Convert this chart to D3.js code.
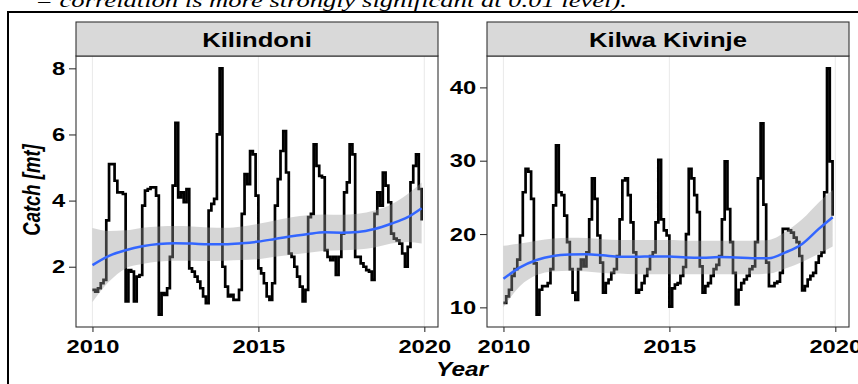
<!DOCTYPE html>
<html>
<head>
<meta charset="utf-8">
<script src="https://cdn.jsdelivr.net/npm/d3@7"></script>
<style>
  html, body { margin: 0; padding: 0; background: #fff; }
  svg { display: block; }
</style>
</head>
<body>
<svg id="chart" width="858" height="384"></svg>
<script>
// Monthly catch (mt), Jan 2010 – Dec 2019
const kilindoniCatch = [
  1.30, 1.25, 1.35, 1.50, 1.60, 3.40, 5.10, 5.10, 4.60, 4.25, 4.25, 4.20,
  0.95, 1.90, 1.85, 0.95, 1.70, 1.75, 3.85, 4.30, 4.35, 4.40, 4.40, 4.15,
  0.55, 1.20, 1.15, 1.35, 2.30, 4.45, 6.35, 4.10, 4.25, 3.95, 4.35, 1.95,
  1.85, 1.70, 1.55, 1.35, 1.10, 0.90, 3.70, 3.90, 4.05, 6.00, 8.00, 2.00,
  1.40, 1.10, 1.15, 1.00, 1.00, 1.30, 3.60, 4.80, 4.50, 5.50, 5.40, 4.15,
  1.95, 1.80, 1.50, 1.10, 1.00, 1.50, 3.85, 4.65, 5.50, 6.10, 4.85, 2.40,
  2.30, 2.00, 1.70, 1.40, 0.95, 1.30, 3.50, 3.60, 5.70, 5.05, 4.75, 4.70,
  2.50, 2.30, 2.20, 2.30, 1.75, 2.30, 3.00, 4.25, 4.55, 5.70, 5.40, 2.30,
  2.30, 2.10, 2.00, 1.90, 1.85, 1.60, 3.60, 4.25, 3.85, 4.85, 4.45, 3.95,
  3.00, 2.85, 2.80, 2.70, 2.40, 2.00, 2.60, 4.55, 5.05, 5.40, 4.35, 3.40
];
const kilwaCatch = [
  10.6, 11.5, 12.4, 14.3, 15.2, 16.5, 19.8, 25.7, 28.9, 28.5, 24.8, 16.0,
   9.0, 12.4, 12.9, 12.9, 13.3, 15.2, 23.9, 32.1, 25.7, 25.3, 22.5, 18.9,
  15.2, 12.0, 11.0, 15.2, 16.5, 15.6, 17.5, 22.0, 27.6, 24.8, 19.8, 16.1,
  12.0, 13.3, 13.8, 14.7, 15.2, 17.0, 22.0, 27.3, 27.6, 25.3, 21.6, 17.5,
  12.0, 12.4, 13.3, 14.3, 15.2, 17.0, 17.5, 21.6, 30.1, 22.0, 20.5, 19.8,
  10.1, 12.6, 13.1, 13.3, 14.3, 15.5, 20.0, 28.9, 27.6, 25.3, 23.0, 15.6,
  12.0, 12.9, 13.3, 14.3, 15.2, 15.8, 17.0, 22.0, 29.9, 23.4, 18.9, 14.7,
  10.4, 12.4, 13.3, 13.8, 14.3, 15.2, 15.6, 18.9, 27.6, 35.1, 24.0, 16.1,
  12.9, 12.9, 13.3, 13.5, 14.7, 20.7, 20.7, 20.5, 20.2, 19.5, 18.9, 17.0,
  12.3, 12.9, 13.8, 14.3, 14.7, 16.1, 17.0, 17.5, 25.7, 42.6, 29.9, 22.5
];

// LOESS trend with confidence band, sampled every half year
const trendYears = [2010, 2010.5, 2011, 2011.5, 2012, 2012.5, 2013, 2013.5, 2014, 2014.5,
  2015, 2015.5, 2016, 2016.5, 2017, 2017.5, 2018, 2018.5, 2019, 2019.5, 2019.92];
const kilindoniFit   = [2.05, 2.33, 2.50, 2.62, 2.69, 2.71, 2.70, 2.68, 2.68, 2.71,
  2.76, 2.84, 2.92, 2.99, 3.04, 3.03, 3.05, 3.14, 3.30, 3.50, 3.77];
const kilindoniUpper = [3.17, 3.08, 3.10, 3.18, 3.22, 3.23, 3.22, 3.19, 3.18, 3.22,
  3.30, 3.40, 3.50, 3.56, 3.58, 3.57, 3.60, 3.70, 3.88, 4.20, 4.55];
const kilindoniLower = [0.93, 1.55, 1.95, 2.08, 2.16, 2.18, 2.18, 2.17, 2.18, 2.20,
  2.23, 2.30, 2.36, 2.42, 2.48, 2.50, 2.52, 2.58, 2.70, 2.75, 2.70];
const kilwaFit   = [13.9, 15.45, 16.45, 17.0, 17.2, 17.25, 17.1, 16.9, 16.9, 16.95,
  16.95, 16.8, 16.75, 16.85, 16.8, 16.7, 16.7, 17.5, 18.65, 20.7, 22.3];
const kilwaUpper = [18.4, 18.7, 19.1, 19.4, 19.5, 19.45, 19.3, 19.2, 19.2, 19.2,
  19.2, 19.1, 19.1, 19.1, 19.1, 19.1, 19.2, 20.3, 22.0, 24.3, 26.0];
const kilwaLower = [10.0, 12.9, 14.4, 14.9, 15.0, 14.9, 14.7, 14.6, 14.5, 14.5,
  14.5, 14.5, 14.5, 14.5, 14.5, 14.5, 14.6, 15.3, 16.2, 17.3, 18.3];

const stations = ["Kilindoni", "Kilwa Kivinje"];
const xTicks = [2010, 2015, 2020];
const kilindoniTicks = [2, 4, 6, 8];
const kilwaTicks = [10, 20, 30, 40];
const captionText = "= correlation is more strongly significant at 0.01 level).";

const monthTimes = d3.range(kilindoniCatch.length).map(i => 2010 + i / 12);

const svg = d3.select("#chart");
const STRETCH = 1.25;           // glyphs in this figure are drawn wide
const panelTop = 56, panelBottom = 327, stripTop = 22;

// caption line (partly cropped at the top edge) and figure frame
svg.append("text")
  .attr("x", 35).attr("y", 7)
  .attr("textLength", 592).attr("lengthAdjust", "spacingAndGlyphs")
  .style("font-family", "'Liberation Serif', 'Times New Roman', serif")
  .style("font-style", "italic").style("font-size", "19px")
  .text(captionText);
svg.append("rect")
  .attr("x", 8).attr("y", 12).attr("width", 860).attr("height", 400)
  .attr("fill", "none").attr("stroke", "#000").attr("stroke-width", 2);

const panels = [
  { name: stations[0], x0: 76, x1: 438, values: kilindoniCatch, fit: kilindoniFit,
    upper: kilindoniUpper, lower: kilindoniLower, yTicks: kilindoniTicks },
  { name: stations[1], x0: 487, x1: 849, values: kilwaCatch, fit: kilwaFit,
    upper: kilwaUpper, lower: kilwaLower, yTicks: kilwaTicks }
];

panels.forEach((p, k) => {
  const tMin = d3.min(monthTimes), tMax = d3.max(monthTimes);
  const tPad = (tMax - tMin) * 0.05;
  const x = d3.scaleLinear().domain([tMin - tPad, tMax + tPad]).range([p.x0, p.x1]);
  const vMin = d3.min(p.values.concat(p.lower)), vMax = d3.max(p.values.concat(p.upper));
  const vPad = (vMax - vMin) * 0.05;
  const y = d3.scaleLinear().domain([vMin - vPad, vMax + vPad]).range([panelBottom, panelTop]);

  const g = svg.append("g");
  const clipId = "clip" + k;
  svg.append("clipPath").attr("id", clipId).append("rect")
    .attr("x", p.x0).attr("y", panelTop).attr("width", p.x1 - p.x0).attr("height", panelBottom - panelTop);

  // panel background and vertical grid
  g.append("rect").attr("x", p.x0).attr("y", panelTop)
    .attr("width", p.x1 - p.x0).attr("height", panelBottom - panelTop).attr("fill", "#fff");
  g.selectAll("line.grid").data(xTicks).join("line").attr("class", "grid")
    .attr("x1", d => x(d)).attr("x2", d => x(d))
    .attr("y1", panelTop).attr("y2", panelBottom)
    .attr("stroke", "#ebebeb").attr("stroke-width", 1.1);

  const plot = g.append("g").attr("clip-path", `url(#${clipId})`);

  // catch series
  const series = monthTimes.map((t, i) => [t, p.values[i]]);
  plot.append("path").datum(series)
    .attr("fill", "none").attr("stroke", "#000").attr("stroke-width", 2.7)
    .attr("stroke-linejoin", "miter")
    .attr("d", d3.line().x(d => x(d[0])).y(d => y(d[1])).curve(d3.curveStepAfter));

  // confidence band and trend
  const band = trendYears.map((t, i) => ({ t, lo: p.lower[i], hi: p.upper[i], fit: p.fit[i] }));
  plot.append("path").datum(band)
    .attr("fill", "#999999").attr("fill-opacity", 0.4)
    .attr("d", d3.area().x(d => x(d.t)).y0(d => y(d.lo)).y1(d => y(d.hi)).curve(d3.curveMonotoneX));
  plot.append("path").datum(band)
    .attr("fill", "none").attr("stroke", "#3366FF").attr("stroke-width", 2.5)
    .attr("d", d3.line().x(d => x(d.t)).y(d => y(d.fit)).curve(d3.curveMonotoneX));

  // panel border
  g.append("rect").attr("x", p.x0).attr("y", panelTop)
    .attr("width", p.x1 - p.x0).attr("height", panelBottom - panelTop)
    .attr("fill", "none").attr("stroke", "#333").attr("stroke-width", 1.1);

  // strip
  g.append("rect").attr("x", p.x0).attr("y", stripTop)
    .attr("width", p.x1 - p.x0).attr("height", panelTop - stripTop)
    .attr("fill", "#d9d9d9").attr("stroke", "#333").attr("stroke-width", 1.1);
  g.append("text")
    .attr("transform", `translate(${(p.x0 + p.x1) / 2},47) scale(${STRETCH},1)`)
    .attr("text-anchor", "middle")
    .style("font-family", "Arial, 'Liberation Sans', sans-serif")
    .style("font-weight", "bold").style("font-size", "20.5px")
    .text(p.name);

  // axes
  const xAxis = g.append("g").attr("transform", `translate(0,${panelBottom})`)
    .call(d3.axisBottom(x).tickValues(xTicks).tickFormat(d3.format("d")).tickSize(5).tickPadding(7.5));
  const yAxis = g.append("g").attr("transform", `translate(${p.x0},0)`)
    .call(d3.axisLeft(y).tickValues(p.yTicks).tickFormat(d3.format("d")).tickSize(7).tickPadding(3.8));
  [xAxis, yAxis].forEach(a => {
    a.select(".domain").remove();
    a.selectAll(".tick line").attr("stroke", "#333").attr("stroke-width", 1.1);
    a.selectAll(".tick text")
      .attr("fill", "#000")
      .style("font-family", "Arial, 'Liberation Sans', sans-serif")
      .style("font-weight", "bold").style("font-size", "19px");
  });
  xAxis.selectAll(".tick text").attr("transform", `scale(${STRETCH},1)`);
  yAxis.selectAll(".tick text").each(function () {
    const t = d3.select(this);
    const xx = +t.attr("x");
    t.attr("x", xx / STRETCH).attr("transform", `scale(${STRETCH},1)`);
  });
});

// axis titles
svg.append("text")
  .attr("transform", `translate(40,190) scale(${STRETCH},1) rotate(-90)`)
  .attr("text-anchor", "middle")
  .style("font-family", "Arial, 'Liberation Sans', sans-serif")
  .style("font-weight", "bold").style("font-style", "italic").style("font-size", "18.5px")
  .text("Catch [mt]");
svg.append("text")
  .attr("transform", `translate(462,376) scale(${STRETCH},1)`)
  .attr("text-anchor", "middle")
  .style("font-family", "Arial, 'Liberation Sans', sans-serif")
  .style("font-weight", "bold").style("font-style", "italic").style("font-size", "19.5px")
  .text("Year");
</script>
</body>
</html>
